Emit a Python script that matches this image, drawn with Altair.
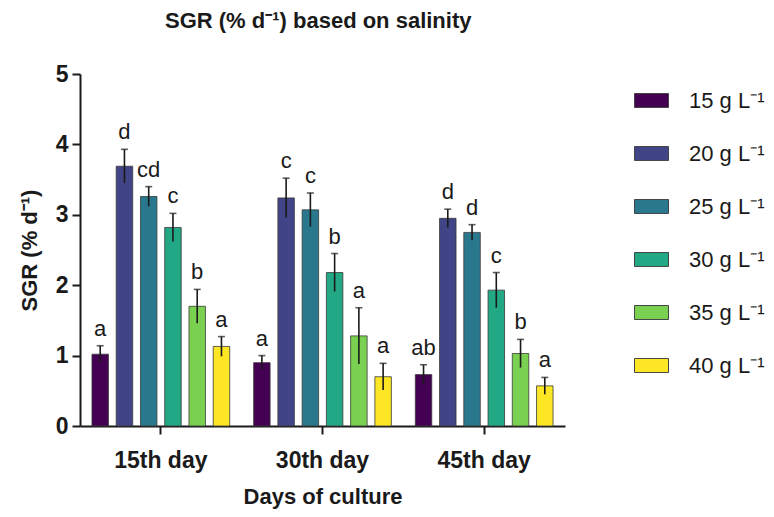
import altair as alt
import pandas as pd

# Culture days (x groups) and salinity treatments (bars within each group)
days = ["15th day", "30th day", "45th day"]
salinity = ["15 g L⁻¹", "20 g L⁻¹", "25 g L⁻¹", "30 g L⁻¹", "35 g L⁻¹", "40 g L⁻¹"]
colors = ["#440154", "#414487", "#2a788e", "#22a884", "#7ad151", "#fde725"]

# Mean SGR (% d-1) per salinity, one list per culture day
sgr_15 = [1.02, 3.69, 3.26, 2.82, 1.70, 1.13]
sgr_30 = [0.90, 3.24, 3.07, 2.18, 1.28, 0.70]
sgr_45 = [0.73, 2.95, 2.75, 1.93, 1.03, 0.57]

# Standard deviations
sd_15 = [0.12, 0.24, 0.14, 0.20, 0.24, 0.14]
sd_30 = [0.10, 0.28, 0.24, 0.27, 0.40, 0.19]
sd_45 = [0.14, 0.13, 0.11, 0.25, 0.20, 0.12]

# Significance letters
sig_15 = ["a", "d", "cd", "c", "b", "a"]
sig_30 = ["a", "c", "c", "b", "a", "a"]
sig_45 = ["ab", "d", "d", "c", "b", "a"]

rows = []
for day, means, sds, sigs in zip(days, [sgr_15, sgr_30, sgr_45],
                                 [sd_15, sd_30, sd_45], [sig_15, sig_30, sig_45]):
    for s, m, e, g in zip(salinity, means, sds, sigs):
        rows.append({"day": day, "salinity": s, "sgr": m,
                     "lo": m - e, "hi": m + e, "sig": g})
df = pd.DataFrame(rows)

FONT = "Liberation Sans, Arial, sans-serif"
INK = "#1a1a1a"

x_enc = alt.X("day:N", sort=days,
              scale=alt.Scale(paddingInner=0.1, paddingOuter=0.05),
              axis=alt.Axis(title="Days of culture", labelAngle=0))
off_enc = alt.XOffset("salinity:N", sort=salinity,
                      scale=alt.Scale(paddingInner=0.32, paddingOuter=0.16))

base = alt.Chart(df)

bars = base.mark_bar(stroke="#3a3a3a", strokeWidth=0.8).encode(
    x=x_enc,
    xOffset=off_enc,
    y=alt.Y("sgr:Q", scale=alt.Scale(domain=[0, 5]),
            axis=alt.Axis(title="SGR (% d⁻¹)", values=[0, 1, 2, 3, 4, 5],
                          format="d")),
    color=alt.Color("salinity:N", sort=salinity,
                    scale=alt.Scale(domain=salinity, range=colors),
                    legend=alt.Legend(title=None, orient="none",
                                      legendX=554, legendY=9)),
)

errs = base.mark_rule(color=INK, strokeWidth=1.6).encode(
    x=x_enc, xOffset=off_enc,
    y="lo:Q", y2="hi:Q",
)

caps = base.mark_tick(color=INK, thickness=1.6, size=7, orient="horizontal").encode(
    x=x_enc, xOffset=off_enc, y="hi:Q",
)

letters = base.mark_text(font=FONT, fontSize=22, color=INK,
                         baseline="alphabetic", dy=-10).encode(
    x=x_enc, xOffset=off_enc, y="hi:Q", text="sig:N",
)

chart = alt.layer(bars, errs, caps, letters).properties(
    width=485,
    height=352,
    title=alt.Title("SGR (% d⁻¹) based on salinity", anchor="start", dx=85,
                    frame="group",
                    font=FONT, fontSize=22, fontWeight="bold", color=INK,
                    offset=30),
    autosize=alt.AutoSizeParams(type="none"),
    padding={"left": 80, "top": 74, "right": 209, "bottom": 91},
    background="white",
).configure_view(
    stroke=None,
).configure_axis(
    domainColor=INK, domainWidth=2, tickColor=INK, tickWidth=2, tickSize=8,
    grid=False,
    labelFont=FONT, labelFontSize=23, labelFontWeight="bold", labelColor=INK,
    titleFont=FONT, titleFontSize=22, titleFontWeight="bold", titleColor=INK,
).configure_axisY(
    labelPadding=4, titlePadding=14,
).configure_axisX(
    labelPadding=15, titlePadding=14,
).configure_legend(
    symbolType="M-1,-0.41L1,-0.41L1,0.41L-1,0.41Z",
    symbolSize=1156,
    symbolStrokeColor="#444",
    symbolStrokeWidth=1,
    symbolOpacity=1,
    labelFont=FONT, labelFontSize=22, labelColor=INK,
    labelOffset=20, rowPadding=24, symbolLimit=0,
)

chart.save("out.html", embed_options={"renderer": "svg", "actions": False})
